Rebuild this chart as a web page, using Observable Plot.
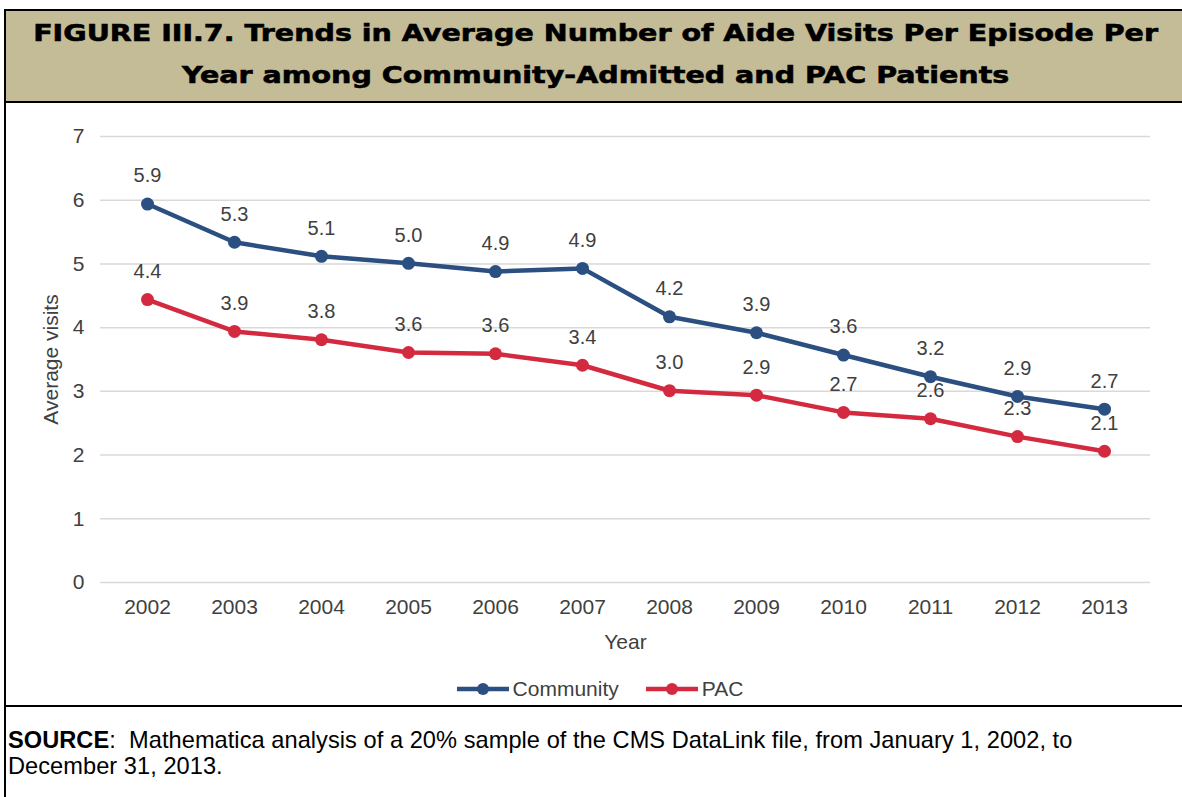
<!DOCTYPE html>
<html><head><meta charset="utf-8">
<script src="https://cdn.jsdelivr.net/npm/d3@7"></script>
<script src="https://cdn.jsdelivr.net/npm/@observablehq/plot@0.6"></script>
<style>
body{margin:0;background:#fff;overflow:hidden;}
#fig{position:absolute;left:4px;top:9px;width:1180px;border:2px solid #000;font-family:"Liberation Sans",Arial,sans-serif;background:#fff;}
#title{background:#c4bc96;height:90px;border-bottom:2px solid #000;display:flex;align-items:center;justify-content:center;}
#title div{text-align:center;font-family:"DejaVu Sans",sans-serif;font-weight:bold;font-size:23px;line-height:42px;color:#000;transform:scaleX(1.24);white-space:nowrap;margin-top:-4px;-webkit-text-stroke:0.6px #000;}
#chart{height:602px;position:relative;border-bottom:2px solid #000;}
#chart svg.plot{position:absolute;left:0;top:0;}
#legend{position:absolute;top:574px;left:0;width:1180px;display:flex;justify-content:center;gap:27px;font-size:21px;color:#404040;padding-left:8px;box-sizing:border-box;}
#legend .item{display:flex;align-items:center;gap:4px;}
#source{padding:20px 0 0 2px;font-size:23.6px;letter-spacing:0.05px;line-height:26px;color:#000;height:77px;white-space:nowrap;}
</style>
</head><body>
<div id="fig">
  <div id="title"><div>FIGURE III.7. Trends in Average Number of Aide Visits Per Episode Per<br>Year among Community-Admitted and PAC Patients</div></div>
  <div id="chart"><div id="legend"></div></div>
  <div id="source"><b>SOURCE</b>:&nbsp; Mathematica analysis of a 20% sample of the CMS DataLink file, from January 1, 2002, to<br>December 31, 2013.</div>
</div>
<script>
const years = ["2002","2003","2004","2005","2006","2007","2008","2009","2010","2011","2012","2013"];
const community = [5.94,5.34,5.12,5.01,4.88,4.93,4.17,3.92,3.57,3.23,2.92,2.72];
const pac = [4.44,3.94,3.81,3.61,3.59,3.41,3.01,2.94,2.67,2.57,2.29,2.06];
const seriesNames = ["Community","PAC"];
const seriesColors = ["#2a4f80","#d42a40"];
const yTicks = [0,1,2,3,4,5,6,7];

const data = years.flatMap((yr,i)=>[
  {year:yr, value:community[i], series:seriesNames[0]},
  {year:yr, value:pac[i], series:seriesNames[1]}
]);

const chart = Plot.plot({
  width:1180, height:560,
  marginLeft:94, marginRight:36, marginTop:33, marginBottom:81,
  style:{fontFamily:"Liberation Sans, Arial, sans-serif", fontSize:"20px", color:"#404040", background:"transparent"},
  x:{type:"point", domain:years, padding:0.5},
  y:{domain:[0,7]},
  color:{domain:seriesNames, range:seriesColors},
  marks:[
    Plot.gridY(yTicks, {stroke:"#d9d9d9", strokeOpacity:1, strokeWidth:1.5}),
    Plot.axisY(yTicks, {tickSize:0, tickPadding:16, tickFormat:d=>String(d), label:"Average visits", labelAnchor:"center", labelOffset:57, labelArrow:"none", fontSize:21}),
    Plot.axisX({tickSize:0, tickPadding:17, label:"Year", labelAnchor:"center", labelOffset:66, labelArrow:"none", fontSize:21}),
    Plot.line(data, {x:"year", y:"value", z:"series", stroke:"series", strokeWidth:4.5}),
    Plot.dot(data, {x:"year", y:"value", fill:"series", r:6.5}),
    Plot.text(data, {x:"year", y:"value", text:d=>d.value.toFixed(1), dy:-28, fill:"#404040", fontSize:20})
  ]
});
chart.classList.add("plot");
const chartDiv = document.getElementById("chart");
chartDiv.insertBefore(chart, chartDiv.firstChild);

const legend = document.getElementById("legend");
seriesNames.forEach((name,i)=>{
  const item = document.createElement("div");
  item.className = "item";
  item.innerHTML = `<svg width="52" height="16"><line x1="0" x2="52" y1="8" y2="8" stroke="${seriesColors[i]}" stroke-width="4.5"/><circle cx="26" cy="8" r="6" fill="${seriesColors[i]}"/></svg><span>${name}</span>`;
  legend.appendChild(item);
});
</script>
</body></html>
